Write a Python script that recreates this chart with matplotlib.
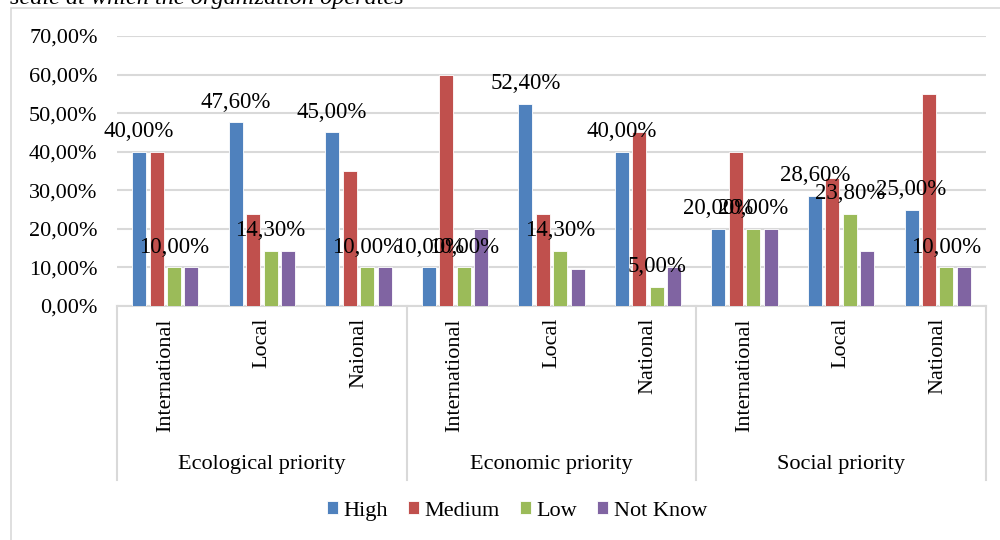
import numpy as np
import matplotlib.pyplot as plt
import matplotlib.transforms as mtransforms
from matplotlib.patches import Rectangle
from matplotlib.lines import Line2D

plt.rcParams['font.family'] = ['Liberation Serif', 'DejaVu Serif']

groups = ['Ecological priority', 'Economic priority', 'Social priority']
scales = ['International', 'Local', 'Naional',
          'International', 'Local', 'National',
          'International', 'Local', 'National']
series = ['High', 'Medium', 'Low', 'Not Know']
high = [40.0, 47.6, 45.0, 10.0, 52.4, 40.0, 20.0, 28.6, 25.0]
medium = [40.0, 23.8, 35.0, 60.0, 23.8, 45.0, 40.0, 33.3, 55.0]
low = [10.0, 14.3, 10.0, 10.0, 14.3, 5.0, 20.0, 23.8, 10.0]
not_know = [10.0, 14.3, 10.0, 20.0, 9.5, 10.0, 20.0, 14.3, 10.0]
labelled = ['High', 'Low']

colors = ['#4F81BD', '#C0504D', '#9BBB59', '#8064A2']
grid_col = '#D9D9D9'


def pct(v):
    return f'{v:.2f}%'.replace('.', ',')


fig = plt.figure(figsize=(10, 5.4), dpi=100)
ax = fig.add_axes([0.117, 0.4333, 0.869, 0.5])

# outer chart frame and cut-off caption line above it
fig.patches.append(Rectangle((0.011, -0.05), 1.1, 1.035, transform=fig.transFigure,
                             fill=False, edgecolor=grid_col, linewidth=1.2))
fig.text(0.01, 1 - 4 / 540, 'scale at which the organization operates',
         fontsize=17.5, style='italic', va='baseline', ha='left')

x = np.arange(len(scales))
step = 0.181
width = 0.145
values = [high, medium, low, not_know]
for i, (name, vals) in enumerate(zip(series, values)):
    xs = x + (i - 1.5) * step
    bars = ax.bar(xs, np.array(vals) / 100, width, color=colors[i], label=name,
                  edgecolor='white', linewidth=0.6, zorder=3)
    if name in labelled:
        for xi, v in zip(xs, vals):
            ax.annotate(pct(v), (xi, v / 100), xytext=(0, 7), textcoords='offset points',
                        ha='center', va='bottom', fontsize=16.5, zorder=5)

ax.set_xlim(-0.5, len(scales) - 0.5)
ax.set_ylim(0, 0.7)
ax.set_yticks(np.arange(0, 0.71, 0.1))
ax.set_yticklabels([pct(t * 100) for t in np.arange(0, 0.71, 0.1)], fontsize=16)
ax.tick_params(axis='y', length=0, pad=14)
ax.set_xticks([])
ax.yaxis.grid(True, color=grid_col, linewidth=1.5, zorder=0)
ax.set_axisbelow(True)
for s in ['left', 'right', 'top']:
    ax.spines[s].set_visible(False)
ax.spines['bottom'].set_color(grid_col)
ax.spines['bottom'].set_linewidth(1.5)

# multi-level category axis
trans = mtransforms.blended_transform_factory(ax.transData, fig.transFigure)
for xi, name in zip(x, scales):
    fig.text(xi, 1 - 318 / 540, name, transform=trans, rotation=90,
             ha='center', va='top', fontsize=16)
for gi, g in enumerate(groups):
    fig.text(gi * 3 + 1, 1 - 465 / 540, g, transform=trans,
             ha='center', va='center', fontsize=16)
for b in np.arange(-0.5, len(scales), 3):
    fig.lines.append(Line2D([b, b], [1 - 306 / 540, 1 - 480 / 540], transform=trans,
                            color=grid_col, linewidth=1.5))

fig.legend(loc='center', bbox_to_anchor=(0.517, 1 - 511 / 540), ncol=4, frameon=False,
           fontsize=16, handlelength=0.5, handleheight=0.5, handletextpad=0.25,
           columnspacing=0.9)

fig.savefig('out.png', dpi=100)
